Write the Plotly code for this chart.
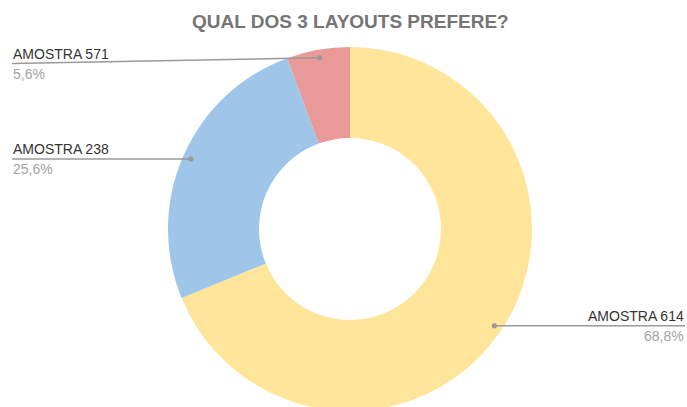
import math
import plotly.graph_objects as go

# ---- data ----
labels = ["AMOSTRA 614", "AMOSTRA 238", "AMOSTRA 571"]
values = [68.8, 25.6, 5.6]
pct_text = ["68,8%", "25,6%", "5,6%"]
colors = ["#FFE599", "#9FC5E8", "#EA9999"]
title = "QUAL DOS 3 LAYOUTS PREFERE?"

# ---- layout geometry (pixels); figure slightly taller than the window so the
# bottom of the donut is clipped as in the reference ----
W, H = 687, 411
CX, CY, R = 350, 229, 182
HOLE = 0.5
DOT_FRAC = 0.955

def px(x):
    return x / W

def py(y):
    return 1 - y / H

fig = go.Figure()
fig.add_trace(go.Pie(
    labels=labels, values=values, hole=HOLE, sort=False,
    direction="clockwise", rotation=0,
    marker=dict(colors=colors, line=dict(width=0)),
    textinfo="none", hoverinfo="label+percent",
    domain=dict(x=[px(CX - R), px(CX + R)], y=[max(0, py(CY + R)), py(CY - R)]),
    showlegend=False,
))

# label placement: (side, anchor x px, left-end y px)
placement = {
    "AMOSTRA 614": ("right", 685, None),
    "AMOSTRA 238": ("left", 12, None),
    "AMOSTRA 571": ("left", 12, 63.5),
}

shapes = []
annotations = []
total = sum(values)
cum = 0.0
for lab, v, pt in zip(labels, values, pct_text):
    mid = (cum + v / 2) / total * 2 * math.pi
    cum += v
    dx = DOT_FRAC * R * math.sin(mid)
    dy = -DOT_FRAC * R * math.cos(mid)
    dot_x, dot_y = CX + dx, CY + dy
    side, tx, ly = placement[lab]
    if ly is None:
        ly = dot_y
    shapes.append(dict(type="line", xref="paper", yref="paper",
                       x0=px(tx), y0=py(ly), x1=px(dot_x), y1=py(dot_y),
                       line=dict(color="#9a9a9a", width=1.5)))
    rr = 2.6
    shapes.append(dict(type="circle", xref="paper", yref="paper",
                       x0=px(dot_x - rr), x1=px(dot_x + rr),
                       y0=py(dot_y + rr), y1=py(dot_y - rr),
                       fillcolor="#9a9a9a", line=dict(width=0)))
    xa = "left" if side == "left" else "right"
    annotations.append(dict(text=lab, xref="paper", yref="paper",
                            x=px(tx), y=py(ly - 0.5), xanchor=xa, yanchor="bottom",
                            showarrow=False, borderpad=0,
                            font=dict(family="Liberation Sans, Arial", size=14, color="#333333")))
    annotations.append(dict(text=pt, xref="paper", yref="paper",
                            x=px(tx), y=py(ly + 1.5), xanchor=xa, yanchor="top",
                            showarrow=False, borderpad=0,
                            font=dict(family="Liberation Sans, Arial", size=14, color="#a3a3a3")))

fig.update_layout(
    width=W, height=H, autosize=False,
    margin=dict(l=0, r=0, t=0, b=0),
    paper_bgcolor="white", plot_bgcolor="white",
    title=dict(text="<b>" + title + "</b>", x=0.51, xanchor="center",
               y=py(21), yanchor="middle",
               font=dict(family="Liberation Sans, Arial", size=19, color="#757575")),
    shapes=shapes, annotations=annotations,
)

fig.write_html("out.html", config={"displayModeBar": False},
               post_script="document.body.style.margin='0px';document.body.style.overflow='hidden';")
